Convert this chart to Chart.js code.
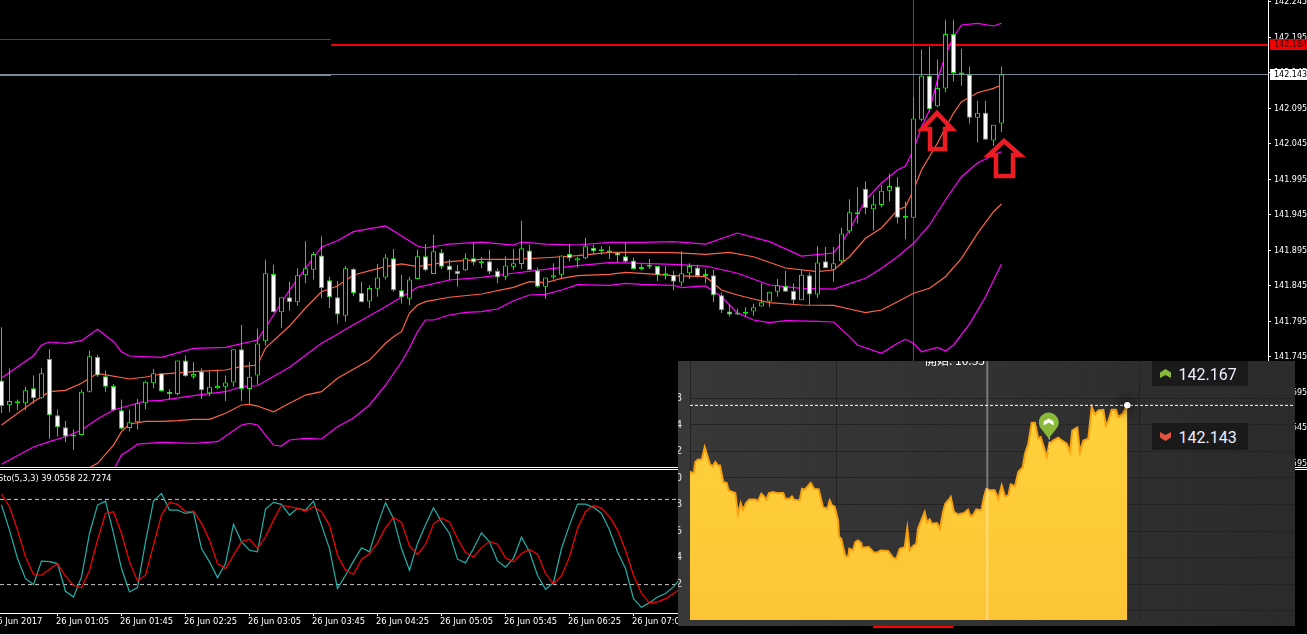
<!DOCTYPE html>
<html>
<head>
<meta charset="utf-8">
<title>USDJPY</title>
<script src="https://cdn.jsdelivr.net/npm/chart.js@4"></script>
<style>
html,body{margin:0;padding:0;background:#000;overflow:hidden;width:1307px;height:635px;}
canvas{position:absolute;display:block;}
#price{left:0;top:0;}
#sto{left:0;top:470px;}
#inset{left:678px;top:361px;background:linear-gradient(90deg,#383838,#2b2b2b);}
.rule{position:absolute;left:0;width:1307px;height:1px;background:#fff;}
.quote{position:absolute;left:1152px;width:96px;background:#1a1a1a;color:#eef;font:16px Roboto,sans-serif;}
.quote span{position:absolute;left:26.5px;top:50%;transform:translateY(-50%);}
.quote svg{position:absolute;left:8px;top:50%;margin-top:-4.5px;}
.notice{position:absolute;left:925px;top:361px;color:#fff;font:12px "Noto Sans CJK SC",sans-serif;height:6px;overflow:hidden;width:62px;}
.notice div{margin-top:-8px;line-height:14px;white-space:nowrap;}
#redbar{position:absolute;left:873px;top:626px;width:80px;height:2px;background:#f00;}
</style>
</head>
<body>
<canvas id="price" width="1307" height="467"></canvas>
<div class="rule" style="top:467px"></div>
<div class="rule" style="top:469px"></div>
<canvas id="sto" width="1307" height="165"></canvas>
<canvas id="inset" width="617" height="265"></canvas>
<div class="notice"><div>開始: 10:55</div></div>
<div class="quote" style="top:361px;height:25px"><svg width="11" height="9"><polygon points="0,3.5 5.5,0 11,3.5 11,9 5.5,6 0,9" fill="#8ab93a"/></svg><span>142.167</span></div>
<div class="quote" style="top:423px;height:27px"><svg width="11" height="9"><polygon points="0,0 5.5,3 11,0 11,5.5 5.5,9 0,5.5" fill="#e0533d"/></svg><span>142.143</span></div>
<div id="redbar"></div>
<div class="rule" style="top:634px;background:#ddd"></div>
<script>
// candles
var candleOpen = [141.712,141.677,141.681,141.680,141.701,141.687,141.742,141.663,141.646,141.635,141.635,141.696,141.745,141.718,141.704,141.670,141.645,141.653,141.680,141.708,141.722,141.696,141.693,141.740,141.717,141.725,141.694,141.701,141.703,141.709,141.756,141.700,141.719,141.767,141.862,141.808,141.829,141.822,141.860,141.868,141.888,141.853,141.829,
141.803,141.869,141.835,141.823,141.841,141.857,141.884,141.839,141.827,141.855,141.887,141.862,141.892,141.874,141.866,141.867,141.884,141.879,141.880,141.866,141.858,141.872,141.876,141.895,141.867,141.844,141.857,141.861,141.890,141.881,141.884,141.899,141.896,141.895,141.892,141.887,141.881,141.871,141.874,141.873,141.860,141.861,
141.850,141.863,141.871,141.860,141.860,141.832,141.809,141.806,141.808,141.809,141.816,141.823,141.837,141.845,141.838,141.825,141.860,141.833,141.880,141.868,141.880,141.922,141.946,141.982,141.953,141.959,141.979,141.985,141.942,141.941,142.079,142.141,142.098,142.123,142.200,142.144,142.143,142.082,142.089,142.050,142.074];
var candleHigh = [141.787,141.729,141.685,141.703,141.719,141.729,141.756,141.671,141.655,141.643,141.699,141.754,141.748,141.726,141.707,141.685,141.671,141.686,141.712,141.728,141.722,141.700,141.740,141.747,141.738,141.729,141.725,141.727,141.719,141.756,141.790,141.738,141.785,141.882,141.875,141.829,141.851,141.870,141.908,141.893,141.915,141.858,141.852,
141.873,141.870,141.851,141.846,141.876,141.890,141.897,141.861,141.858,141.896,141.904,141.917,141.897,141.883,141.875,141.891,141.906,141.886,141.896,141.870,141.887,141.897,141.937,141.903,141.871,141.857,141.877,141.888,141.904,141.886,141.913,141.903,141.901,141.901,141.893,141.906,141.885,141.876,141.883,141.873,141.873,141.866,
141.894,141.877,141.875,141.869,141.868,141.836,141.819,141.813,141.815,141.820,141.849,141.837,141.855,141.866,141.849,141.867,141.864,141.901,141.900,141.900,141.927,141.967,141.984,141.992,141.973,141.987,142.003,141.998,141.964,142.111,142.178,142.182,142.164,142.220,142.220,142.179,142.154,142.106,142.106,142.072,142.154];
var candleLow = [141.666,141.667,141.670,141.670,141.679,141.686,141.630,141.633,141.625,141.614,141.635,141.695,141.717,141.696,141.669,141.643,141.640,141.643,141.671,141.701,141.696,141.685,141.691,141.717,141.714,141.686,141.690,141.700,141.683,141.703,141.683,141.679,141.706,141.761,141.808,141.786,141.810,141.817,141.849,141.854,141.828,141.814,141.792,
141.795,141.831,141.822,141.814,141.830,141.854,141.837,141.820,141.818,141.855,141.866,141.862,141.869,141.853,141.844,141.866,141.874,141.870,141.862,141.849,141.853,141.868,141.869,141.867,141.843,141.827,141.854,141.856,141.880,141.871,141.883,141.889,141.889,141.883,141.878,141.878,141.869,141.867,141.869,141.852,141.854,141.839,
141.845,141.855,141.857,141.848,141.822,141.807,141.802,141.804,141.802,141.803,141.816,141.815,141.830,141.837,141.820,141.825,141.818,141.828,141.870,141.851,141.875,141.919,141.933,141.946,141.923,141.956,141.964,141.933,141.911,141.941,142.077,142.091,142.097,142.118,142.133,142.127,142.074,142.047,142.051,142.042,142.062];
var candleClose = [141.676,141.683,141.680,141.698,141.687,141.722,141.663,141.646,141.633,141.633,141.696,141.746,141.719,141.703,141.670,141.644,141.653,141.680,141.710,141.722,141.697,141.693,141.740,141.718,141.721,141.698,141.703,141.704,141.709,141.756,141.700,141.717,141.764,141.863,141.808,141.829,141.822,141.860,141.870,141.890,141.842,141.829,141.805,
141.870,141.835,141.822,141.842,141.857,141.885,141.839,141.829,141.854,141.887,141.867,141.894,141.872,141.867,141.862,141.884,141.878,141.877,141.865,141.857,141.874,141.877,141.898,141.867,141.844,141.857,141.860,141.888,141.884,141.884,141.901,141.894,141.894,141.892,141.888,141.879,141.869,141.869,141.872,141.860,141.861,141.851,
141.863,141.873,141.859,141.859,141.832,141.811,141.805,141.805,141.806,141.815,141.822,141.837,141.846,141.837,141.825,141.861,141.833,141.878,141.870,141.877,141.919,141.949,141.946,141.955,141.960,141.979,141.986,141.941,141.941,142.081,142.141,142.094,142.124,142.200,142.145,142.143,142.082,142.089,142.051,142.072,142.143];

// bands, read every few candles
var band1Idx = [0,4,5,6,8,10,12,14,15,16,20,24,28,32,36,40,42,44,48,52,53,56,60,64,65,68,72,76,80,84,88,92,96,100,104,105,106,108,110,112,113,114,115,116,117,118,119,120,122,124,125];
var band1 = [141.7154,141.7468,141.7619,141.7661,141.7643,141.7680,141.7840,141.7665,141.7525,141.7464,141.7445,141.7572,141.7586,141.7689,141.8393,141.8999,141.9088,141.9215,141.9295,141.9013,141.8985,141.9041,141.9069,141.9027,141.9069,141.9041,141.9027,141.9065,141.9065,141.9074,141.9041,141.9196,141.9074,141.8872,141.8915,141.9055,141.9238,141.9661,141.9900,142.0084,142.0140,142.0365,142.0689,142.0929,142.1351,142.1703,142.1957,142.2126,142.2150,142.2112,142.2150];
var band2Idx = [0,4,6,8,10,12,16,18,20,24,28,30,32,33,36,38,40,42,44,48,50,52,56,60,64,68,70,72,76,80,84,88,91,94,98,102,104,106,108,110,112,113,114,115,117,118,119,120,122,124,125];
var band2 = [141.6492,141.6820,141.6961,141.6981,141.7079,141.7220,141.7140,141.7168,141.7210,141.7243,141.7267,141.7313,141.7337,141.7576,141.7886,141.8140,141.8369,141.8450,141.8605,141.8722,141.8760,141.8722,141.8792,141.8826,141.8826,141.8848,141.8862,141.8877,141.8924,141.8924,141.8919,141.8896,141.8924,141.8862,141.8703,141.8651,141.8675,141.8862,141.9122,141.9267,141.9520,141.9567,141.9802,142.0084,142.0464,142.0675,142.0886,142.1046,142.1172,142.1234,142.1281];
var band3Idx = [0,4,6,8,10,12,14,18,20,24,28,30,32,36,40,42,43,48,52,56,60,64,68,72,76,80,84,88,92,96,100,104,108,110,112,114,116,118,120,122,124,125];
var band3 = [141.5938,141.6182,141.6257,141.6327,141.6421,141.6576,141.6703,141.6830,141.6840,141.6905,141.6961,141.7031,141.7045,141.7305,141.7643,141.7769,141.7840,141.8158,141.8431,141.8534,141.8572,141.8629,141.8685,141.8736,141.8778,141.8769,141.8755,141.8731,141.8629,141.8464,141.8417,141.8407,141.8558,141.8699,141.8862,141.9051,141.9309,141.9661,141.9989,142.0182,142.0295,142.0341];
var band4Idx = [10,11,12,14,15,16,18,20,22,24,26,28,30,31,32,34,36,38,40,42,46,48,49,50,51,52,53,56,60,64,66,68,70,72,76,78,80,84,88,90,92,94,96,100,104,106,108,110,112,114,116,118,120,122,124,125];
var band4 = [141.5788,141.5890,141.5952,141.6210,141.6398,141.6506,141.6544,141.6544,141.6553,141.6572,141.6572,141.6657,141.6774,141.6783,141.6759,141.6679,141.6798,141.6914,141.6961,141.7150,141.7407,141.7643,141.7736,141.7806,141.8069,141.8182,141.8229,141.8291,141.8337,141.8431,141.8510,141.8496,141.8558,141.8595,141.8614,141.8643,141.8629,141.8595,141.8581,141.8393,141.8323,141.8267,141.8215,141.8182,141.8178,141.8126,141.8074,141.8112,141.8229,141.8347,141.8417,141.8581,141.8840,141.9192,141.9496,141.9605];
var band5Idx = [14,15,16,17,20,24,27,30,31,32,34,35,36,38,40,42,44,46,48,50,51,52,53,54,56,58,60,62,64,66,68,70,72,76,78,80,84,85,88,90,92,94,96,98,102,104,106,107,110,112,113,114,115,117,118,119,121,123,125];
var band5 = [141.5858,141.6069,141.6140,141.6224,141.6248,141.6234,141.6257,141.6492,141.6516,141.6492,141.6210,141.6196,141.6281,141.6305,141.6295,141.6468,141.6591,141.6774,141.7055,141.7379,141.7576,141.7806,141.7971,141.7971,141.8041,141.8079,141.8088,141.8126,141.8243,141.8323,141.8333,141.8393,141.8468,141.8460,141.8488,141.8474,141.8460,141.8426,141.8450,141.8299,141.8069,141.7971,141.7933,141.7961,141.7952,141.7943,141.7736,141.7619,141.7502,141.7643,141.7699,141.7643,141.7524,141.7586,141.7534,141.7619,141.7914,141.8299,141.8760];

var priceTicks = [142.245,142.195,142.145,142.095,142.045,141.995,141.945,141.895,141.845,141.795,141.745,141.695,141.645,141.595];
var bidLine = 142.18442, askLine = 142.14287;
var bidLabel = '142.184', askLabel = '142.143';
var oldBid = 142.19217, oldAsk = 142.14217;
var lineSplit = 41.19;
var timeLineIdx = 114;

// stochastic
var stoMain = [76.0,58.4,38.4,24.2,20.0,36.5,36.2,34.8,15.3,11.3,25.4,56.0,76.0,78.8,56.0,31.3,14.8,17.9,50.1,78.8,84.2,72.5,72.5,70.1,71.3,45.4,36.0,24.9,34.8,62.6,50.1,44.2,43.1,73.2,77.9,76.5,69.0,73.7,72.5,78.8,61.9,45.4,17.2,
26.6,36.5,45.9,43.1,61.9,77.7,66.6,45.4,30.1,49.0,61.9,74.1,64.2,56.0,37.9,35.3,45.4,56.5,50.1,36.7,32.2,38.4,53.4,43.1,26.6,16.7,21.4,45.4,61.9,76.7,76.7,74.4,70.1,58.4,43.1,31.3,10.1,4.0,7.3,11.3,13.7,18.4,25.4];
var stoSignal = [83.8,74.8,58.4,39.5,27.1,26.6,30.8,34.8,25.9,19.5,17.7,30.1,51.3,70.1,71.3,56.0,36.0,22.6,26.6,47.8,69.0,77.9,76.5,71.3,71.8,63.1,51.3,34.8,31.3,40.7,50.1,52.0,45.4,53.7,65.4,76.0,74.8,73.7,71.8,74.8,71.3,61.9,40.7,
30.1,27.3,37.7,41.9,49.4,60.2,67.3,63.8,47.1,41.2,48.2,62.6,66.8,64.2,52.5,42.6,39.5,45.9,50.6,48.5,38.8,36.0,41.9,44.7,41.4,27.8,20.7,26.1,39.5,59.5,71.3,75.8,73.7,67.8,58.4,44.2,26.6,13.7,7.1,7.8,10.1,13.7,17.7];
var stoLevels = [80,20];
var timeTickIdx = [-1,7,15,23,31,39,47,55,63,71,79];
var timeTickLabels = ['26 Jun 2017','26 Jun 01:05','26 Jun 01:45','26 Jun 02:25','26 Jun 03:05','26 Jun 03:45','26 Jun 04:25','26 Jun 05:05','26 Jun 05:45','26 Jun 06:25','26 Jun 07:05'];

// inset tick chart
var insetTime = [0,2,4,5.3,8,11.3,12,14.7,17.3,20,22.7,25.3,28,30,33.3,36.7,38.7,43,45.3,48,50.7,53,56,59.3,65.3,68,71.3,74,76.3,79,83,86.3,93.3,95.3,99.7,102,104,109.7,112,114.7,120.7,124,128.7,133,137.3,139.7,142,144.7,148,149,151.3,154.7,155.7,158.3,159.3,163,165.3,168,171.3,172,178.7,184,188,190.7,198,203,206.3,209.7,214.7,217.3,219.7,223,226.3,228,231.3,234.7,237,239.7,242,247,250,253,255.3,259.7,260.7,264,268,274,278,280.3,283,286.3,291.3,294,296.3,300,304.7,308.3,311.7,315,318.3,320.7,325,328.3,332.7,335,338.3,341.7,345,348.3,350.7,353.3,356.7,359.3,363.3,368.3,371.7,376.7,380,382.3,387.3,390,393.3,398.3,401.7,405,408.3,413.3,416,418.3,421.7,426,428.3,432.7,437.3];
var insetPrice = [142.16251,142.16236,142.16244,142.16319,142.16339,142.16337,142.16344,142.16432,142.16369,142.16302,142.16287,142.16319,142.16294,142.16294,142.16169,142.16161,142.16106,142.16093,142.16086,142.15925,142.16010,142.15960,142.16010,142.16038,142.16038,142.16025,142.16081,142.16061,142.16036,142.16086,142.16093,142.16086,142.16086,142.16043,142.16043,142.16061,142.16036,142.16030,142.16118,142.16111,142.16161,142.16118,142.16113,142.15980,142.15968,142.16030,142.15993,142.15985,142.15880,142.15759,142.15742,142.15629,142.15609,142.15609,142.15667,142.15654,142.15717,142.15729,142.15709,142.15674,142.15679,142.15636,142.15641,142.15654,142.15649,142.15599,142.15591,142.15667,142.15679,142.15822,142.15654,142.15687,142.15704,142.15817,142.15880,142.15943,142.15867,142.15887,142.15855,142.15860,142.15817,142.15943,142.16005,142.16043,142.16056,142.15943,142.15925,142.15935,142.15960,142.15913,142.15918,142.15963,142.15955,142.16056,142.16118,142.16106,142.16106,142.16043,142.16143,142.16061,142.16068,142.16151,142.16138,142.16244,142.16281,142.16382,142.16457,142.16615,142.16615,142.16495,142.16507,142.16445,142.16362,142.16457,142.16482,142.16502,142.16482,142.16457,142.16394,142.16558,142.16578,142.16394,142.16482,142.16495,142.16733,142.16678,142.16708,142.16713,142.16595,142.16628,142.16713,142.16713,142.16658,142.16683,142.16746];
var insetTicks = [142.168,142.166,142.164,142.162,142.160,142.158,142.156,142.154,142.152];
var insetTickLabels = ['142.168','142.164','142.162','142.160','142.158','142.156','142.154','142.152',''];
var insetGridTime = [0.7,146.3,449.3];
var nowTime = 297.3;
var pinTime = 358.7, pinPrice = 142.1670;

var GREEN = '#00f000', MAGENTA = '#ff00ff', ORANGE = '#ff6347';
var MT4_FONT = {family:'"DejaVu Sans"', size:8};

function pts(idx, vals) {
    return idx.map(function (x, i) { return {x: x, y: vals[i]}; });
}
function band(idx, vals, color) {
    return {type:'line', data: pts(idx, vals), borderColor: color, borderWidth: 1.2, pointRadius: 0, order: 3};
}
function hline(x0, x1, y, color, w) {
    return {type:'line', data: [{x:x0,y:y},{x:x1,y:y}], borderColor: color, borderWidth: w, pointRadius: 0, order: 4};
}
// tick labels must not push the plot area in
function noPad(s) {
    s.paddingLeft = s.paddingRight = s.paddingTop = s.paddingBottom = 0;
}

var xMin = -0.1875, xMax = 158.3125;

var arrows = [
    [[937,113],[922,129],[930,129],[930,149],[945,149],[945,129],[952,129]],
    [[1004,141],[989,155],[996,155],[996,176],[1013,176],[1013,155],[1020,155]]
];

var priceBoxes = {
    id: 'priceBoxes',
    afterDraw: function (chart) {
        var c = chart.ctx, ys = chart.scales.y;
        function box(val, txt, bg, fg) {
            var y = Math.round(ys.getPixelForValue(val));
            c.fillStyle = bg;
            c.fillRect(1270, y - 6, 37, 11);
            c.fillStyle = fg;
            c.font = '8px "DejaVu Sans"';
            c.textBaseline = 'middle';
            c.textAlign = 'left';
            c.fillText(txt, 1274, y);
        }
        box(bidLine, bidLabel, '#f00000', '#400000');
        box(askLine, askLabel, '#ffffff', '#000000');
        c.strokeStyle = '#ed1c24';
        c.lineWidth = 4.5;
        c.lineJoin = 'miter';
        arrows.forEach(function (a) {
            c.beginPath();
            a.forEach(function (p, i) {
                if (i) c.lineTo(p[0], p[1]); else c.moveTo(p[0], p[1]);
            });
            c.closePath();
            c.stroke();
        });
    }
};

new Chart(document.getElementById('price'), {
    type: 'bar',
    plugins: [priceBoxes],
    data: {
        labels: candleOpen.map(function (v, i) { return i; }),
        datasets: [
            {
                data: candleOpen.map(function (v, i) { return [v, candleClose[i]]; }),
                backgroundColor: candleOpen.map(function (v, i) { return v >= candleClose[i] ? '#ffffff' : '#000000'; }),
                borderColor: GREEN, borderWidth: 1, borderSkipped: false,
                barThickness: 5, grouped: false, inflateAmount: 0, minBarLength: 2, order: 0
            },
            {
                data: candleLow.map(function (v, i) { return [v, candleHigh[i]]; }),
                backgroundColor: GREEN, borderWidth: 0,
                barThickness: 1, grouped: false, inflateAmount: 0, order: 1
            },
            band(band1Idx, band1, MAGENTA),
            band(band2Idx, band2, ORANGE),
            band(band3Idx, band3, MAGENTA),
            band(band4Idx, band4, ORANGE),
            band(band5Idx, band5, MAGENTA),
            {type:'line', data:[{x:timeLineIdx,y:141.6},{x:timeLineIdx,y:142.3}], borderColor:'#b02a2a', borderWidth:1, pointRadius:0, order:5},
            hline(xMin, lineSplit, oldBid, '#f00000', 1),
            hline(xMin, lineSplit, oldAsk, '#778899', 2),
            hline(lineSplit, xMax, bidLine, '#f00000', 2),
            hline(lineSplit, xMax, askLine, '#778899', 1)
        ]
    },
    options: {
        responsive: false, animation: false, devicePixelRatio: 1,
        layout: {padding: 0},
        plugins: {legend: {display: false}, tooltip: {enabled: false}},
        scales: {
            x: {type: 'linear', min: xMin, max: xMax, display: false, offset: false},
            y: {
                position: 'right', min: 142.2478 - 467 / 710, max: 142.2478,
                afterFit: function (s) { s.width = 39; noPad(s); },
                afterBuildTicks: function (s) { s.ticks = priceTicks.map(function (v) { return {value: v}; }); },
                grid: {drawOnChartArea: false, color: '#fff', tickLength: 3},
                border: {color: '#fff'},
                ticks: {
                    color: '#fff', font: MT4_FONT, padding: 3, autoSkip: false,
                    callback: function (v) { return v.toFixed(3); }
                }
            }
        }
    }
});

var stoTitle = {
    id: 'stoTitle',
    afterDraw: function (chart) {
        var c = chart.ctx;
        c.fillStyle = '#fff';
        c.font = '8.2px "DejaVu Sans"';
        c.textBaseline = 'middle';
        c.textAlign = 'left';
        c.fillText('Sto(5,3,3) 39.0558 22.7274', -2, 9);
    }
};

new Chart(document.getElementById('sto'), {
    type: 'line',
    plugins: [stoTitle],
    data: {
        labels: stoMain.map(function (v, i) { return i; }),
        datasets: [
            {data: stoSignal, borderColor: '#ff0000', borderWidth: 1.2, pointRadius: 0, order: 0},
            {data: stoMain, borderColor: '#20b2aa', borderWidth: 1.2, pointRadius: 0, order: 1},
            {data: [{x:xMin,y:stoLevels[0]},{x:xMax,y:stoLevels[0]}], borderColor:'#c8c8c8', borderWidth:1, borderDash:[4,3], pointRadius:0, order:2},
            {data: [{x:xMin,y:stoLevels[1]},{x:xMax,y:stoLevels[1]}], borderColor:'#c8c8c8', borderWidth:1, borderDash:[4,3], pointRadius:0, order:2}
        ]
    },
    options: {
        responsive: false, animation: false, devicePixelRatio: 1,
        layout: {padding: {top: 1}},
        plugins: {legend: {display: false}, tooltip: {enabled: false}},
        scales: {
            x: {
                type: 'linear', min: xMin, max: xMax,
                afterFit: function (s) { s.height = 22; noPad(s); },
                afterBuildTicks: function (s) { s.ticks = timeTickIdx.map(function (v) { return {value: v}; }); },
                grid: {drawOnChartArea: false, color: '#fff', tickLength: 3},
                border: {color: '#fff'},
                ticks: {
                    color: '#fff', font: {family:'"DejaVu Sans"', size:8.4}, align: 'start', labelOffset: -1.5, autoSkip: false, maxRotation: 0, minRotation: 0, padding: 1,
                    callback: function (v) { return timeTickLabels[timeTickIdx.indexOf(v)]; }
                }
            },
            y: {
                position: 'right', min: 0, max: 100,
                afterFit: function (s) { s.width = 39; noPad(s); },
                grid: {display: false},
                border: {color: '#fff'},
                ticks: {display: false}
            }
        }
    }
});

var insetMarks = {
    id: 'insetMarks',
    afterDraw: function (chart) {
        var c = chart.ctx, xs = chart.scales.x, ys = chart.scales.y;
        // glowing dot on the last tick
        var n = insetTime.length - 1;
        var dx = xs.getPixelForValue(insetTime[n]), dy = ys.getPixelForValue(insetPrice[n]);
        c.save();
        c.shadowColor = '#000';
        c.shadowBlur = 14;
        c.fillStyle = '#fff';
        c.beginPath();
        c.arc(dx, dy, 3, 0, Math.PI * 2);
        c.fill();
        c.fill();
        c.fill();
        c.restore();
        // entry pin
        var px = xs.getPixelForValue(pinTime), py = ys.getPixelForValue(pinPrice) + 11;
        c.strokeStyle = '#fff';
        c.lineWidth = 1;
        c.setLineDash([2, 2]);
        c.beginPath();
        c.moveTo(px + 0.5, py + 15);
        c.lineTo(px + 0.5, py + 31);
        c.stroke();
        c.setLineDash([]);
        c.fillStyle = '#8ab93a';
        c.beginPath();
        c.arc(px, py, 10, Math.PI * 0.85, Math.PI * 0.15);
        c.lineTo(px, py + 16);
        c.closePath();
        c.fill();
        c.fillStyle = '#fff';
        c.beginPath();
        c.moveTo(px - 5, py - 1);
        c.lineTo(px, py - 4);
        c.lineTo(px + 5, py - 1);
        c.lineTo(px + 5, py + 3);
        c.lineTo(px, py);
        c.lineTo(px - 5, py + 3);
        c.closePath();
        c.fill();
    }
};

new Chart(document.getElementById('inset'), {
    type: 'line',
    plugins: [insetMarks],
    data: {
        datasets: [
            {data: [{x:nowTime,y:142.1513},{x:nowTime,y:142.172}], borderColor:'rgba(255,255,255,0.35)', borderWidth:2, pointRadius:0, order:0},
            {data: [{x:0,y:insetPrice[insetPrice.length-1]},{x:605,y:insetPrice[insetPrice.length-1]}], borderColor:'#fff', borderWidth:1, borderDash:[3,2], pointRadius:0, order:1},
            {
                data: pts(insetTime, insetPrice),
                borderColor: '#f89f0e', borderWidth: 2, pointRadius: 0, order: 2,
                fill: 'start',
                backgroundColor: function (ctx) {
                    var a = ctx.chart.chartArea;
                    if (!a) return '#ffcb3a';
                    var g = ctx.chart.ctx.createLinearGradient(0, a.top, 0, a.bottom);
                    g.addColorStop(0, '#ffd43c');
                    g.addColorStop(1, '#fdc536');
                    return g;
                }
            }
        ]
    },
    options: {
        responsive: false, animation: false, devicePixelRatio: 1,
        layout: {padding: 0},
        plugins: {legend: {display: false}, tooltip: {enabled: false}, filler: {propagate: false}},
        scales: {
            x: {
                type: 'linear', min: 0, max: 605,
                afterFit: function (s) { s.height = 6; noPad(s); },
                afterBuildTicks: function (s) { s.ticks = insetGridTime.map(function (v) { return {value: v}; }); },
                grid: {color: '#232323', drawTicks: false},
                border: {display: false},
                ticks: {display: false}
            },
            y: {
                min: 142.1513, max: 142.1708,
                afterFit: function (s) { s.width = 12; noPad(s); },
                afterBuildTicks: function (s) { s.ticks = insetTicks.map(function (v) { return {value: v}; }); },
                grid: {color: '#232323', drawTicks: false},
                border: {display: false},
                ticks: {
                    color: '#e0e0e0', font: {family: 'Roboto', size: 11}, padding: 8, autoSkip: false,
                    callback: function (v, i) { return insetTickLabels[i]; }
                }
            }
        }
    }
});
</script>
</body>
</html>
